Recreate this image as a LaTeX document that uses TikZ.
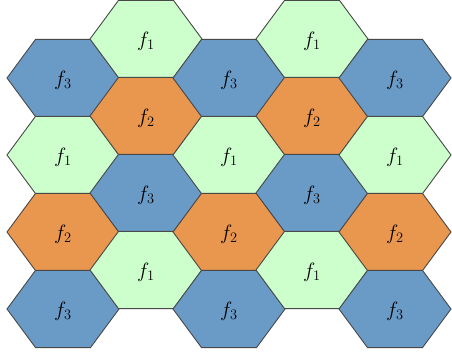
\documentclass[tikz,border=0pt]{standalone}
\definecolor{cgreen}{RGB}{204,255,204}
\definecolor{cblue}{RGB}{106,155,199}
\definecolor{corange}{RGB}{233,150,79}
\definecolor{cedge}{RGB}{72,72,72}
\tikzset{
  hexcell/.style={draw=cedge, line width=0.9pt, line join=miter},
  hexlabel/.style={inner sep=0pt, font=\fontsize{20}{22}\selectfont}
}
\begin{document}
\begin{tikzpicture}[x=1pt,y=-1pt]
\useasboundingbox (0,0) rectangle (452,353);
\foreach \x/\y/\c/\l [count=\i] in {
  63/78/cblue/3, 63/155/cgreen/1, 63/232/corange/2, 63/309/cblue/3,
  146/39/cgreen/1, 146/116/corange/2, 146/193/cblue/3, 146/270/cgreen/1,
  229/78/cblue/3, 229/155/cgreen/1, 229/232/corange/2, 229/309/cblue/3,
  312/39/cgreen/1, 312/116/corange/2, 312/193/cblue/3, 312/270/cgreen/1,
  395/78/cblue/3, 395/155/cgreen/1, 395/232/corange/2, 395/309/cblue/3}
{
  \path[hexcell, fill=\c] (\x-56,\y) -- (\x-27.5,\y-38.6) -- (\x+27.5,\y-38.6)
     -- (\x+56,\y) -- (\x+27.5,\y+38.6) -- (\x-27.5,\y+38.6) -- cycle;
  \node[hexlabel] (cell\i) at (\x,\y+2) {$f_{\l}$};
}
\end{tikzpicture}
\end{document}
